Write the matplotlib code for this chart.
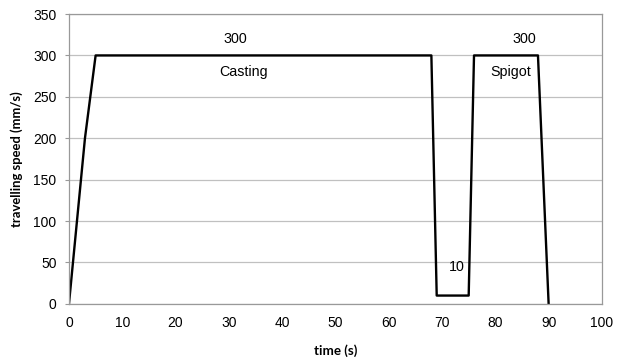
import matplotlib.pyplot as plt

# Data
time_s = [0, 3, 5, 68, 69, 75, 76, 88, 90]
speed = [0, 200, 300, 300, 10, 10, 300, 300, 0]

labels = ["300", "Casting", "300", "Spigot", "10"]
label_x = [31.3, 32.8, 85.4, 82.8, 72.7]
label_y = [320, 280, 320, 280, 44]

fig = plt.figure(figsize=(6.27, 3.6), dpi=100)
ax = fig.add_axes([0.110, 0.156, 0.850, 0.805])

ax.plot(time_s, speed, color='black', lw=1.7, solid_joinstyle='round')

for t, x, y in zip(labels, label_x, label_y):
    ax.text(x, y, t, ha='center', va='center', fontsize=10.3,
            family='Liberation Sans')

ax.set_xlim(0, 100)
ax.set_ylim(0, 350)
ax.set_xticks(range(0, 101, 10))
ax.set_yticks(range(0, 351, 50))
ax.grid(axis='y', color='#c0c0c0', lw=0.9)
ax.set_axisbelow(True)
for s in ax.spines.values():
    s.set_color('#999999')
    s.set_linewidth(0.9)

ax.tick_params(axis='x', length=0, pad=9, labelsize=10)
ax.tick_params(axis='y', length=3, color='#999999', pad=6, labelsize=10)
for lab in ax.get_xticklabels() + ax.get_yticklabels():
    lab.set_family('Liberation Sans')

ax.set_xlabel('time (s)', fontsize=9.6, fontweight='bold', family='Lato', labelpad=10)
ax.set_ylabel('travelling speed (mm/s)', fontsize=9.4, fontweight='bold', family='Lato', labelpad=7)

fig.savefig('out.png', dpi=100)
